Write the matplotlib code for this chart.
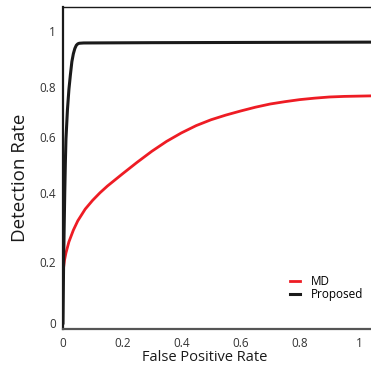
import matplotlib
matplotlib.use("Agg")
import matplotlib.pyplot as plt

plt.rcParams['font.family'] = ['Open Sans', 'DejaVu Sans']

# curves
md_fpr = [0.0, 0.002, 0.005, 0.01, 0.02, 0.035, 0.05, 0.075, 0.1, 0.125, 0.15,
          0.2, 0.25, 0.3, 0.35, 0.4, 0.45, 0.5, 0.55, 0.6, 0.65, 0.7, 0.75,
          0.8, 0.85, 0.9, 0.95, 1.0, 1.05, 1.1]
md_det = [0.158, 0.19, 0.215, 0.24, 0.278, 0.318, 0.35, 0.39, 0.42, 0.446, 0.469,
          0.51, 0.55, 0.588, 0.622, 0.651, 0.676, 0.696, 0.712, 0.726, 0.739,
          0.75, 0.758, 0.765, 0.77, 0.774, 0.776, 0.777, 0.778, 0.778]

prop_fpr = [0.0, 0.001, 0.002, 0.004, 0.006, 0.008, 0.01, 0.015, 0.02, 0.025,
            0.03, 0.035, 0.04, 0.045, 0.05, 0.055, 0.07, 0.3, 1.1]
prop_det = [0.0, 0.1, 0.2, 0.33, 0.45, 0.55, 0.63, 0.73, 0.8, 0.85,
            0.895, 0.922, 0.94, 0.951, 0.956, 0.958, 0.959, 0.96, 0.962]

x_ticks = [0, 0.2, 0.4, 0.6, 0.8, 1]
x_labels = ['0', '0.2', '0.4', '0.6', '0.8', '1']
# y labels sit at uneven heights in the original figure
y_ticks = [0, 0.209, 0.445, 0.637, 0.808, 1]
y_labels = ['0', '0.2', '0.4', '0.6', '0.8', '1']

fig = plt.figure(figsize=(3.71, 3.81), dpi=100)
ax = fig.add_axes([0.1698, 0.1365, 0.8776, 0.845])

ax.plot(md_fpr, md_det, color='#ee1c24', lw=2.0, label='MD')
ax.plot(prop_fpr, prop_det, color='#1a1a1a', lw=2.2, label='Proposed')

ax.set_xlim(0, 1.1)
ax.set_ylim(-0.0205, 1.082)

ax.set_xticks(x_ticks)
ax.set_xticklabels(x_labels)
ax.set_yticks(y_ticks)
ax.set_yticklabels(y_labels)
ax.tick_params(length=0, labelsize=8.5, labelcolor='#333333')
ax.tick_params(axis='x', pad=6)
ax.tick_params(axis='y', pad=5)

for s in ['left', 'top']:
    ax.spines[s].set_color('#1a1a1a')
ax.spines['left'].set_linewidth(1.6)
ax.spines['top'].set_linewidth(1.0)
ax.spines['bottom'].set_color('#555555')
ax.spines['bottom'].set_linewidth(1.6)
ax.spines['right'].set_visible(False)

ax.set_ylabel('Detection Rate', fontsize=13.5, color='#1a1a1a')
ax.yaxis.set_label_coords(-0.105, 0.47)
ax.set_xlabel('False Positive Rate', fontsize=10.5, color='#1a1a1a')
ax.xaxis.set_label_coords(0.435, -0.065)

ax.legend(loc='lower left', bbox_to_anchor=(0.672, 0.06), frameon=False,
          fontsize=8.5, handlelength=0.8, handletextpad=1.0,
          labelspacing=0.0, borderpad=0.2)

fig.savefig('out.png', dpi=100)
